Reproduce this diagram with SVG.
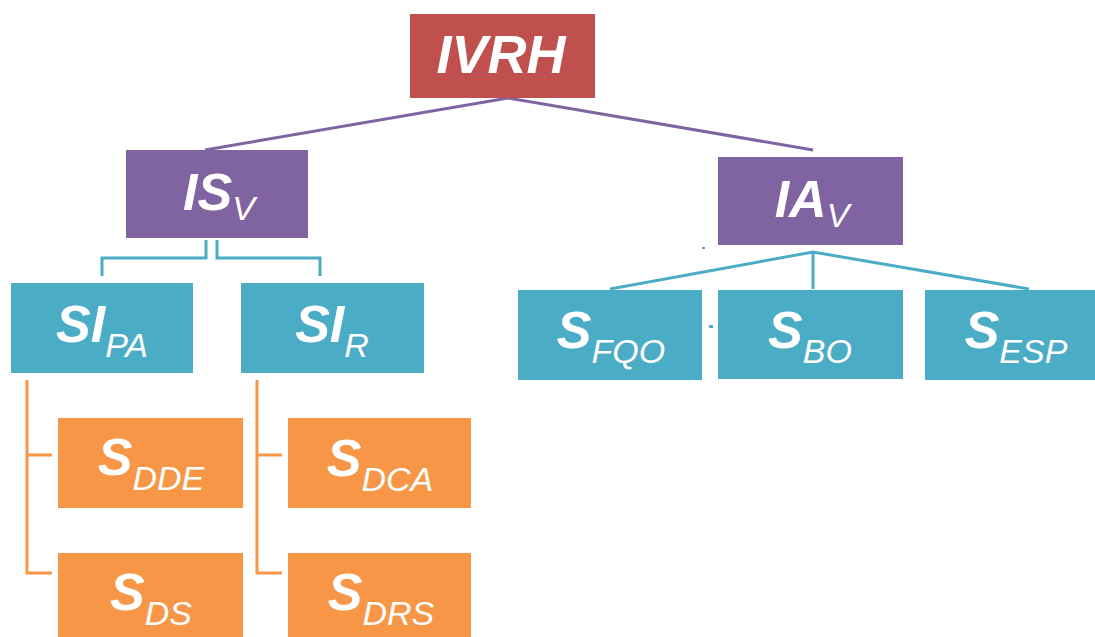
<svg xmlns="http://www.w3.org/2000/svg" width="1095" height="637" viewBox="0 0 1095 637">
<style>
.red{fill:#C0504D}
.pur{fill:#8064A2}
.teal{fill:#4BACC6}
.org{fill:#F79646}
text{font-family:"Liberation Sans",Arial,sans-serif;fill:#fff;text-anchor:middle;font-style:italic}
.m{font-weight:bold;font-size:52px}
.s{font-weight:normal;font-size:34px}
.lp{stroke:#8064A2;stroke-width:3;fill:none}
.lt{stroke:#4BACC6;stroke-width:3;fill:none}
.lo{stroke:#F79646;stroke-width:3;fill:none}
</style>
<rect width="1095" height="637" fill="#fff"/>
<g id="connectors">
<path class="lp" d="M205 150 L508 98 L813 150"/>
<path class="lt" d="M206 240 V258 H102 V276 M217 240 V258 H320 V276"/>
<path class="lt" d="M610 289 L813 252 L1029 289 M813 252 V289"/>
<path class="lo" d="M27 380 V573 H52 M27 455 H52"/>
<path class="lo" d="M257 380 V573 H282 M257 455 H282"/>
<rect x="702" y="247" width="3" height="2" fill="#4BACC6"/>
<rect x="709" y="325" width="4" height="3" fill="#4BACC6"/>
</g>
<g id="IVRH"><rect class="red" x="410" y="14" width="185" height="84"/><text x="501" y="73" class="m" style="font-size:54px">IVRH</text></g>
<g id="ISV"><rect class="pur" x="126" y="150" width="182" height="88"/><text x="219" y="210"><tspan class="m">IS</tspan><tspan class="s" dy="10">V</tspan></text></g>
<g id="IAV"><rect class="pur" x="718" y="157" width="185" height="88"/><text x="812" y="217"><tspan class="m">IA</tspan><tspan class="s" dy="10">V</tspan></text></g>
<g id="SIPA"><rect class="teal" x="11" y="283" width="182" height="90"/><text x="102" y="342"><tspan class="m">SI</tspan><tspan class="s" dy="15">PA</tspan></text></g>
<g id="SIR"><rect class="teal" x="241" y="283" width="183" height="90"/><text x="332" y="342"><tspan class="m">SI</tspan><tspan class="s" dy="15">R</tspan></text></g>
<g id="SFQO"><rect class="teal" x="518" y="290" width="184" height="90"/><text x="611" y="348"><tspan class="m">S</tspan><tspan class="s" dy="15">FQO</tspan></text></g>
<g id="SBO"><rect class="teal" x="718" y="290" width="185" height="89"/><text x="810" y="348"><tspan class="m">S</tspan><tspan class="s" dy="15">BO</tspan></text></g>
<g id="SESP"><rect class="teal" x="925" y="290" width="170" height="90"/><text x="1016" y="348"><tspan class="m">S</tspan><tspan class="s" dy="15">ESP</tspan></text></g>
<g id="SDDE"><rect class="org" x="58" y="418" width="185" height="90"/><text x="151" y="475"><tspan class="m">S</tspan><tspan class="s" dy="15">DDE</tspan></text></g>
<g id="SDS"><rect class="org" x="58" y="553" width="185" height="84"/><text x="151" y="610"><tspan class="m">S</tspan><tspan class="s" dy="15">DS</tspan></text></g>
<g id="SDCA"><rect class="org" x="288" y="418" width="183" height="90"/><text x="380" y="476"><tspan class="m">S</tspan><tspan class="s" dy="15">DCA</tspan></text></g>
<g id="SDRS"><rect class="org" x="288" y="553" width="183" height="84"/><text x="381" y="610"><tspan class="m">S</tspan><tspan class="s" dy="15">DRS</tspan></text></g>
</svg>
